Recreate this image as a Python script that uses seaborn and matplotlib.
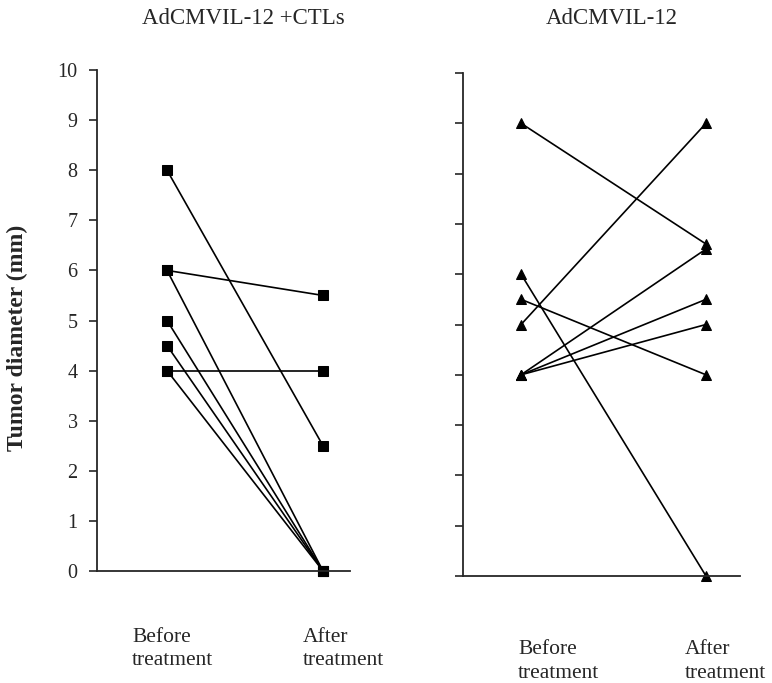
import pandas as pd
import matplotlib
matplotlib.use("Agg")
import matplotlib.pyplot as plt
import matplotlib.transforms as mtransforms
import seaborn as sns

# tumour diameter (mm) for each mouse, before and after treatment
ctl_before = [8, 6, 6, 5, 4.5, 4, 4]
ctl_after = [2.5, 5.5, 0, 0, 0, 4, 0]
il12_before = [9, 6, 5.5, 5, 4, 4, 4]
il12_after = [6.6, 0, 4, 9, 6.5, 5.5, 5]

panel_titles = ["AdCMVIL-12 +CTLs", "AdCMVIL-12"]
phase_labels = ["Before\ntreatment", "After\ntreatment"]
y_ticks = list(range(0, 11))


def to_long(before, after):
    rows = []
    for i, (b, a) in enumerate(zip(before, after)):
        rows.append({"mouse": i, "phase": 0, "diameter": b})
        rows.append({"mouse": i, "phase": 1, "diameter": a})
    return pd.DataFrame(rows)


sns.set_style("ticks")
plt.rcParams["font.family"] = ["Liberation Serif", "DejaVu Serif"]

W, H = 772, 683
fig = plt.figure(figsize=(W / 100, H / 100), dpi=100)
ax1 = fig.add_axes([97 / W, 1 - 571 / H, 253 / W, 501 / H])
ax2 = fig.add_axes([463 / W, 1 - 576 / H, 277 / W, 503 / H])

panels = [
    (ax1, to_long(ctl_before, ctl_after), "s", (-0.449, 1.173), True,
     [-0.224, 0.872], -0.114),
    (ax2, to_long(il12_before, il12_after), "^", (-0.314, 1.184), False,
     [-0.016, 0.886], -0.128),
]

for ax, df, mk, xlim, show_labels, text_x, text_y in panels:
    sns.lineplot(data=df, x="phase", y="diameter", units="mouse",
                 estimator=None, marker=mk, markersize=6.5, color="black",
                 markeredgecolor="black", linewidth=1.2, ax=ax,
                 clip_on=False)
    ax.set_xlim(*xlim)
    ax.set_ylim(0, 10)
    ax.set_yticks(y_ticks)
    if show_labels:
        ax.set_yticklabels([str(t) for t in y_ticks], fontsize=14.5)
    else:
        ax.set_yticklabels([])
    ax.set_xticks([])
    ax.set_xlabel("")
    ax.set_ylabel("")
    ax.tick_params(axis="y", direction="out", length=6, width=1.2, pad=8)
    for s in ["top", "right"]:
        ax.spines[s].set_visible(False)
    for s in ["left", "bottom"]:
        ax.spines[s].set_linewidth(1.3)
    trans = mtransforms.blended_transform_factory(ax.transData, ax.transAxes)
    for tx, lab in zip(text_x, phase_labels):
        ax.text(tx, text_y, lab, transform=trans, ha="left", va="top",
                fontsize=15.5, linespacing=1.3)

ax1.set_ylabel("Tumor diameter (mm)", fontsize=17, fontweight="bold")
ax1.yaxis.set_label_coords(-0.273, 0.465)

fig.text(243 / W, 1 - 19 / H, panel_titles[0], ha="center", va="center",
         fontsize=16.5)
fig.text(612 / W, 1 - 19 / H, panel_titles[1], ha="center", va="center",
         fontsize=16.5)

fig.savefig("out.png", dpi=100)
